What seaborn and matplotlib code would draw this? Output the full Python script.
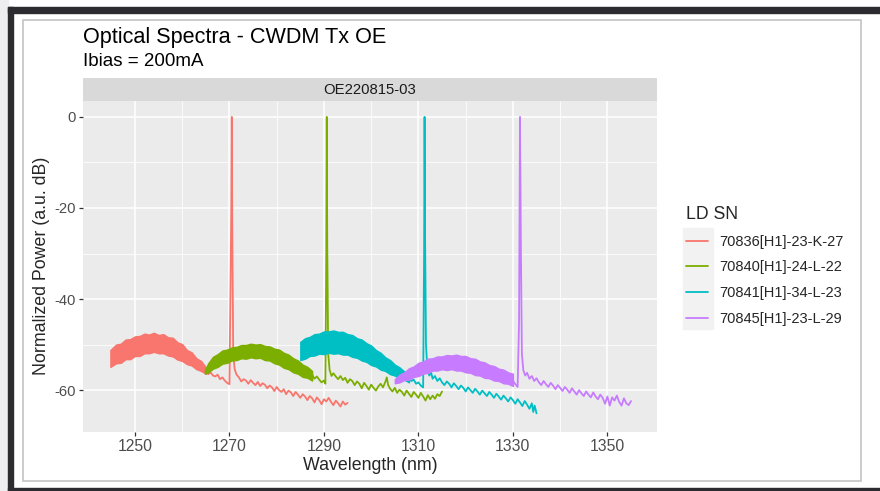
import matplotlib
matplotlib.use("Agg")
import matplotlib.pyplot as plt
import seaborn as sns
from matplotlib.patches import Rectangle
from matplotlib.lines import Line2D

# ---- data ----
ld_sn = ["70836[H1]-23-K-27", "70840[H1]-24-L-22", "70841[H1]-34-L-23", "70845[H1]-23-L-29"]
colors = ["#F8766D", "#7CAE00", "#00BFC4", "#C77CFF"]

# dense ASE part of each spectrum, given as lower / upper envelope (nm, dB)
k27_band_x = [1244.8, 1246, 1247, 1248, 1249, 1250, 1251, 1252, 1253, 1254, 1255, 1256, 1257, 1258,
              1259, 1260, 1261, 1262, 1263, 1264, 1265]
k27_band_hi = [-51.2, -50.0, -49.8, -48.9, -48.8, -48.2, -48.1, -47.6, -47.8, -47.4, -47.9, -47.7, -48.4,
               -48.5, -49.5, -49.9, -51.2, -51.7, -53.0, -53.6, -55.0]
k27_band_lo = [-54.9, -54.1, -54.0, -53.2, -53.2, -52.5, -52.5, -51.9, -51.9, -51.6, -51.9, -51.9, -52.4,
               -52.6, -53.3, -53.6, -54.3, -54.6, -55.4, -55.8, -56.4]

l22_band_x = [1264.8, 1265.5, 1266.5, 1267.5, 1268.5, 1269.5, 1270.5, 1271.5, 1272.5, 1273.5, 1274.5,
              1275.5, 1276.5, 1277.5, 1278.5, 1279.5, 1280.5, 1281.5, 1282.5, 1283.5, 1284.5, 1285.5,
              1286.5, 1287.5]
l22_band_hi = [-55.6, -54.1, -52.7, -52.1, -51.3, -51.1, -50.6, -50.5, -50.1, -50.1, -49.8, -50.0, -49.9,
               -50.3, -50.4, -50.9, -51.1, -51.8, -52.2, -53.0, -53.5, -54.4, -54.9, -55.8]
l22_band_lo = [-56.4, -56.1, -55.3, -54.9, -54.2, -54.0, -53.5, -53.4, -53.0, -53.1, -52.8, -53.0, -52.9,
               -53.4, -53.5, -54.1, -54.4, -55.1, -55.4, -56.1, -56.4, -57.1, -57.3, -57.9]

l23_band_x = [1285.0, 1286, 1287, 1288, 1289, 1290, 1291, 1292, 1293, 1294, 1295, 1296, 1297, 1298,
              1299, 1300, 1301, 1302, 1303, 1304, 1305, 1306, 1307, 1308]
l23_band_hi = [-49.4, -48.6, -48.3, -47.7, -47.6, -47.1, -47.1, -46.9, -47.2, -47.2, -47.7, -47.9, -48.6,
               -48.9, -49.7, -50.2, -51.2, -51.8, -52.8, -53.4, -54.4, -55.0, -55.9, -56.4]
l23_band_lo = [-53.4, -53.1, -52.5, -52.4, -52.0, -52.1, -51.8, -52.0, -51.9, -52.2, -52.2, -52.7, -52.9,
               -53.5, -53.8, -54.5, -54.8, -55.5, -55.8, -56.5, -56.8, -57.5, -57.7, -58.3]

l29_band_x = [1305.0, 1306, 1307, 1308, 1309, 1310, 1311, 1312, 1313, 1314, 1315, 1316, 1317, 1318,
              1319, 1320, 1321, 1322, 1323, 1324, 1325, 1326, 1327, 1328, 1329, 1330]
l29_band_hi = [-57.6, -56.6, -56.1, -55.2, -54.8, -54.0, -53.7, -53.1, -53.0, -52.6, -52.6, -52.3, -52.4,
               -52.2, -52.5, -52.5, -53.0, -53.1, -53.7, -53.9, -54.5, -54.7, -55.3, -55.5, -56.1, -56.4]
l29_band_lo = [-58.5, -58.3, -57.8, -57.7, -57.1, -56.9, -56.4, -56.2, -55.7, -55.7, -55.4, -55.6, -55.4,
               -55.7, -55.7, -56.1, -56.2, -56.7, -56.8, -57.3, -57.4, -57.9, -58.0, -58.5, -58.6, -59.1]

# laser line and noisy tail of each spectrum (nm, dB)
k27_x = [1265.0, 1265.5, 1266.0, 1266.5, 1267.0, 1267.5, 1268.0, 1268.5,
         1269.0, 1269.5, 1270.0, 1270.4, 1270.5, 1270.6, 1270.8, 1271.1, 1271.5,
         1272.0, 1272.5, 1273.0, 1273.5, 1274.0, 1274.5, 1275.0, 1275.5,
         1276.0, 1276.5, 1277.0, 1277.5, 1278.0, 1278.5, 1279.0, 1279.5,
         1280.0, 1280.5, 1281.0, 1281.5, 1282.0, 1282.5, 1283.0, 1283.5,
         1284.0, 1284.5, 1285.0, 1285.5, 1286.0, 1286.5, 1287.0, 1287.5,
         1288.0, 1288.5, 1289.0, 1289.5, 1290.0, 1290.5, 1291.0, 1291.5,
         1292.0, 1292.5, 1293.0, 1293.5, 1294.0, 1294.5, 1295.0]
k27_y = [-55.7, -56.5, -56.1, -56.8, -57.0, -56.6, -57.6, -57.2,
         -57.9, -58.4, -58.7, -20.0, 0.0, -25.0, -52.0, -55.4, -56.6,
         -57.2, -58.1, -57.6, -57.9, -58.6, -57.8, -58.4, -58.9,
         -58.2, -59.1, -58.5, -58.8, -59.6, -59.0, -59.4, -60.2,
         -59.3, -60.0, -60.4, -59.8, -60.9, -60.1, -60.5, -61.3,
         -60.4, -61.0, -61.7, -60.9, -61.4, -62.2, -61.3, -61.8,
         -62.7, -61.6, -62.2, -63.1, -62.0, -62.5, -61.7, -62.6,
         -63.3, -62.3, -62.9, -63.6, -62.5, -63.2, -62.8]

l22_x = [1287.5, 1288.0, 1288.5, 1289.0, 1289.5, 1290.0, 1290.3, 1290.5,
         1290.6, 1290.7, 1290.9, 1291.2, 1291.6, 1292.0, 1292.5, 1293.0,
         1293.5, 1294.0, 1294.5, 1295.0, 1295.5, 1296.0, 1296.5, 1297.0,
         1297.5, 1298.0, 1298.5, 1299.0, 1299.5, 1300.0, 1300.5, 1301.0,
         1301.5, 1302.0, 1302.5, 1303.0, 1303.3, 1303.6, 1304.0, 1304.5,
         1305.0, 1305.5, 1306.0, 1306.5, 1307.0, 1307.5, 1308.0, 1308.5,
         1309.0, 1309.5, 1310.0, 1310.5, 1311.0, 1311.5, 1312.0, 1312.5,
         1313.0, 1313.5, 1314.0, 1314.5, 1315.0]
l22_y = [-56.6, -57.5, -57.0, -57.7, -58.3, -57.9, -58.6, -30.0,
         0.0, -28.0, -52.0, -55.6, -56.9, -56.3, -57.0, -57.6,
         -56.9, -57.8, -57.3, -58.4, -57.6, -58.0, -58.9, -58.1,
         -58.6, -59.6, -58.4, -59.1, -59.9, -58.8, -59.5, -60.1,
         -59.2, -58.6, -59.4, -58.2, -57.2, -58.9, -59.7, -60.3,
         -59.5, -60.6, -59.9, -60.4, -61.2, -60.1, -60.8, -61.5,
         -60.4, -61.0, -61.7, -60.6, -61.4, -62.3, -61.1, -62.0,
         -61.2, -61.9, -60.9, -61.3, -60.3]

l23_x = [1308.0, 1308.5, 1309.0, 1309.5, 1310.0, 1310.5, 1311.0, 1311.2,
         1311.3, 1311.4, 1311.6, 1311.9, 1312.3, 1312.7, 1313.0, 1313.5,
         1314.0, 1314.5, 1315.0, 1315.5, 1316.0, 1316.5, 1317.0, 1317.5,
         1318.0, 1318.5, 1319.0, 1319.5, 1320.0, 1320.5, 1321.0, 1321.5,
         1322.0, 1322.5, 1323.0, 1323.5, 1324.0, 1324.5, 1325.0, 1325.5,
         1326.0, 1326.5, 1327.0, 1327.5, 1328.0, 1328.5, 1329.0, 1329.5,
         1330.0, 1330.5, 1331.0, 1331.5, 1332.0, 1332.5, 1333.0, 1333.5,
         1334.0, 1334.3, 1334.6, 1335.0]
l23_y = [-57.4, -58.0, -57.7, -58.6, -58.3, -59.0, -59.4, -30.0,
         0.0, -25.0, -50.0, -55.6, -56.8, -56.2, -57.5, -56.9,
         -58.0, -57.4, -58.3, -58.9, -58.1, -58.6, -59.4, -58.5,
         -59.1, -59.8, -59.0, -59.5, -60.3, -59.4, -60.0, -60.6,
         -59.7, -60.3, -61.0, -60.1, -60.7, -61.3, -60.4, -61.0,
         -61.7, -60.8, -61.4, -62.1, -61.2, -61.8, -62.5, -61.6,
         -62.2, -63.0, -62.0, -62.7, -63.5, -62.4, -63.2, -64.1,
         -62.9, -64.8, -63.4, -65.1]

l29_x = [1330.0, 1330.5, 1331.0, 1331.3, 1331.5, 1331.7, 1331.9, 1332.2,
         1332.6, 1333.0, 1333.5, 1334.0, 1334.5, 1335.0, 1335.5, 1336.0,
         1336.5, 1337.0, 1337.5, 1338.0, 1338.5, 1339.0, 1339.5, 1340.0,
         1340.5, 1341.0, 1341.5, 1342.0, 1342.5, 1343.0, 1343.5, 1344.0,
         1344.5, 1345.0, 1345.5, 1346.0, 1346.5, 1347.0, 1347.5, 1348.0,
         1348.5, 1349.0, 1349.5, 1350.0, 1350.5, 1351.0, 1351.5, 1352.0,
         1352.5, 1353.0, 1353.5, 1354.0, 1354.5, 1355.0]
l29_y = [-57.9, -58.7, -59.3, -45.0, 0.0, -30.0, -52.0, -55.6,
         -56.8, -56.2, -57.5, -56.9, -58.0, -57.4, -58.3, -58.9,
         -58.0, -58.7, -59.3, -58.4, -59.0, -59.8, -58.9, -59.5,
         -60.2, -59.3, -59.9, -60.6, -59.6, -60.3, -61.0, -60.0,
         -60.7, -61.3, -60.3, -61.0, -61.6, -60.5, -61.4, -62.0,
         -61.0, -61.7, -63.0, -61.4, -63.4, -61.6, -62.3, -61.2,
         -62.6, -63.4, -61.8, -62.9, -63.3, -62.4]

bands = [(k27_band_x, k27_band_lo, k27_band_hi), (l22_band_x, l22_band_lo, l22_band_hi),
         (l23_band_x, l23_band_lo, l23_band_hi), (l29_band_x, l29_band_lo, l29_band_hi)]
lines = [(k27_x, k27_y), (l22_x, l22_y), (l23_x, l23_y), (l29_x, l29_y)]

x_ticks = [1250, 1270, 1290, 1310, 1330, 1350]
y_ticks = [-60, -40, -20, 0]

# ---- style ----
sns.set_theme(style="darkgrid", rc={"axes.facecolor": "#EBEBEB", "grid.color": "white",
                                    "axes.unicode_minus": False})
plt.rcParams["font.family"] = ["Liberation Sans", "DejaVu Sans"]

W, H = 880, 491


def fx(px):
    return px / W


def fy(py):
    return 1 - py / H


fig = plt.figure(figsize=(8.8, 4.91), dpi=100)
fig.patch.set_facecolor("white")

# screenshot frame
frame = [
    Rectangle((0, 0), fx(8), 1, color="#eeeef0"),
    Rectangle((fx(8), 0), fx(5), fy(7), color="#2b2b30"),
    Rectangle((fx(8), fy(13)), 1, 6 / H, color="#2b2b30"),
    Rectangle((fx(8), 0), 1, 3 / H, color="#2b2b30"),
    Rectangle((fx(23), fy(481)), fx(861) - fx(23), fy(20) - fy(481), fill=False,
              edgecolor="#c8c8c8", lw=1.3),
]
for p in frame:
    p.set_transform(fig.transFigure)
    fig.patches.append(p)

ax = fig.add_axes([fx(83), fy(432), fx(657) - fx(83), fy(101) - fy(432)])

for i, (c, (bx, blo, bhi), (lx, ly)) in enumerate(zip(colors, bands, lines)):
    ax.fill_between(bx, blo, bhi, color=c, lw=1.0, edgecolor=c, zorder=2 + i)
    sns.lineplot(x=lx, y=ly, ax=ax, color=c, lw=1.3, sort=False, estimator=None,
                 legend=False, zorder=2 + i)

ax.set_xlim(1239.0, 1360.5)
ax.set_ylim(-69.2, 3.5)
ax.set_xticks(x_ticks)
ax.set_xticks([t + 10 for t in x_ticks[:-1]], minor=True)
ax.set_yticks(y_ticks)
ax.set_yticks([t + 10 for t in y_ticks[:-1]], minor=True)
ax.grid(which="major", color="white", lw=1.1)
ax.grid(which="minor", color="white", lw=0.55)
ax.tick_params(which="major", length=3, width=0.9, color="#333333", labelcolor="#4d4d4d",
               pad=2, left=True, bottom=True)
ax.tick_params(axis="x", labelsize=11.3)
ax.tick_params(axis="y", labelsize=10.6)
ax.tick_params(which="minor", length=0)
for s in ax.spines.values():
    s.set_visible(False)
ax.set_xlabel("")
ax.set_ylabel("")

# facet strip
strip = fig.add_axes([fx(83), fy(101), fx(657) - fx(83), 23 / H])
strip.set_facecolor("#d9d9d9")
strip.set_xticks([])
strip.set_yticks([])
for s in strip.spines.values():
    s.set_visible(False)
strip.text(0.5, 0.5, "OE220815-03", ha="center", va="center", fontsize=10.7, color="#1a1a1a",
           transform=strip.transAxes)

fig.text(fx(83), fy(38), "Optical Spectra - CWDM Tx OE", fontsize=15.6, color="black", va="center")
fig.text(fx(83), fy(61), "Ibias = 200mA", fontsize=13.5, color="black", va="center")
fig.text(fx(370), fy(465), "Wavelength (nm)", fontsize=12.8, ha="center", va="center")
fig.text(fx(42), fy(266), "Normalized Power (a.u. dB)", fontsize=12.8, ha="center", va="center",
         rotation=90)

# legend with grey key background like ggplot
key_bg = Rectangle((fx(683), fy(329)), fx(713) - fx(683), fy(228) - fy(329), color="#f2f2f2",
                   transform=fig.transFigure)
fig.patches.append(key_bg)
handles = [Line2D([], [], color=c, lw=1.3) for c in colors]
fig.legend(handles, ld_sn, title="LD SN", loc="upper left", bbox_to_anchor=(fx(686), fy(206)),
           frameon=False, fontsize=10.5, title_fontsize=12.7, alignment="left",
           handlelength=1.5, handletextpad=0.8, labelspacing=0.8, borderaxespad=0, borderpad=0)

fig.savefig("out.png", dpi=100)
